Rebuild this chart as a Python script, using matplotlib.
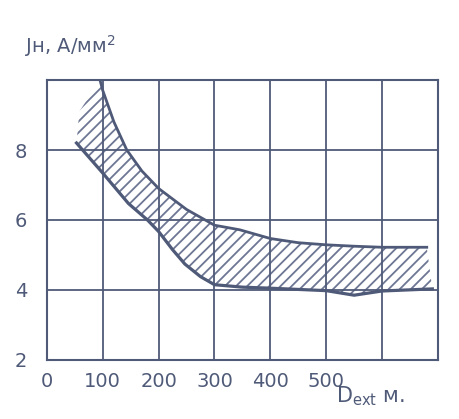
import matplotlib.pyplot as plt
from matplotlib.ticker import FixedLocator

ink = '#4f5a78'
hatch_ink = '#6d7794'
plt.rcParams['font.family'] = ['DejaVu Sans']
plt.rcParams['hatch.linewidth'] = 1.3

# upper boundary of the zone, D_ext (m) vs J (A/mm2)
x_upper = [95, 100, 120, 143, 170, 200, 250, 300, 345, 400, 450, 500, 550, 600, 680]
j_upper = [10.0, 9.7, 8.8, 8.0, 7.4, 6.9, 6.3, 5.85, 5.72, 5.47, 5.35, 5.29, 5.25, 5.22, 5.22]

# lower boundary
x_lower = [53, 100, 146, 180, 200, 225, 247, 275, 300, 350, 400, 500, 550, 600, 690]
j_lower = [8.2, 7.34, 6.47, 6.0, 5.67, 5.15, 4.74, 4.38, 4.15, 4.08, 4.05, 3.98, 3.85, 3.97, 4.03]

# left edge of the hatched zone
x_corner = [58]
j_corner = [9.1]

x_ticks = [0, 100, 200, 300, 400, 500, 600, 700]
x_labels = ['0', '100', '200', '300', '400', '500', '', '']
y_ticks = [2, 4, 6, 8, 10]
y_labels = ['2', '4', '6', '8', '']

fig = plt.figure(figsize=(4.6, 4.19), dpi=100)
ax = fig.add_axes([0.102, 0.141, 0.85, 0.668])

# hatched zone between the two curves
poly_x = x_corner + x_upper + x_lower[::-1]
poly_y = j_corner + j_upper + j_lower[::-1]
ax.fill(poly_x, poly_y, fill=False, hatch='///', edgecolor=hatch_ink, linewidth=0)

ax.plot(x_upper, j_upper, color=ink, lw=2.0)
ax.plot(x_lower, j_lower, color=ink, lw=2.3)

ax.set_xlim(0, 700)
ax.set_ylim(2, 10)
ax.xaxis.set_major_locator(FixedLocator(x_ticks))
ax.yaxis.set_major_locator(FixedLocator(y_ticks))
ax.set_xticklabels(x_labels)
ax.set_yticklabels(y_labels)
ax.grid(True, color=ink, lw=1.3)
ax.tick_params(length=0, labelsize=14, colors=ink, pad=9)
ax.tick_params(axis='y', pad=14)
for s in ax.spines.values():
    s.set_color(ink)
    s.set_linewidth(1.5)

fig.text(0.055, 0.89, 'Jн, A/мм$^2$', fontsize=14, color=ink, va='center')
fig.text(0.73, 0.055, 'D$_{\\mathrm{ext}}$ м.', fontsize=15, color=ink, va='center')

plt.savefig('out.png', dpi=100)
